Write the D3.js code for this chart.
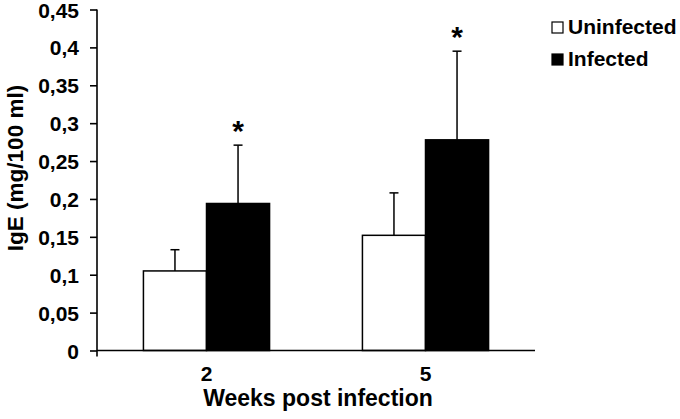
<!DOCTYPE html>
<html>
<head>
<meta charset="utf-8">
<script src="https://cdn.jsdelivr.net/npm/d3@7"></script>
<style>
  body { margin: 0; background: #fff; }
  svg { display: block; }
</style>
</head>
<body>
<div id="chart"></div>
<script>
const weeks = ['2', '5']
const series = ['Uninfected', 'Infected']
const uninfected = [0.105, 0.152]
const uninfectedSd = [0.028, 0.056]
const infected = [0.194, 0.278]
const infectedSd = [0.077, 0.117]
const significant = [true, true]
const yTicks = [0, 0.05, 0.1, 0.15, 0.2, 0.25, 0.3, 0.35, 0.4, 0.45]

const WIDTH = 680
const HEIGHT = 419
const FONT = 'Liberation Sans, Arial, Helvetica, sans-serif'

const rows = weeks.map((w, i) => ({
  week: w,
  bars: [
    { key: 'Uninfected', value: uninfected[i], sd: uninfectedSd[i] },
    { key: 'Infected', value: infected[i], sd: infectedSd[i] },
  ],
  star: significant[i],
}))

const svg = d3.select('#chart').append('svg').attr('width', WIDTH).attr('height', HEIGHT)
svg.append('rect').attr('width', WIDTH).attr('height', HEIGHT).attr('fill', '#ffffff')

const x0 = d3.scaleBand().domain(weeks).range([97, 535])
const bw = x0.bandwidth()
const x1 = d3.scaleBand().domain(series).range([bw * 0.212, bw * 0.788])
const y = d3.scaleLinear().domain([0, 0.45]).range([350.5, 9.5])
const fill = d3.scaleOrdinal().domain(series).range(['#ffffff', '#000000'])

const comma = d3.formatLocale({ decimal: ',', thousands: '.', grouping: [3], currency: ['', ''] })
const fmt = (d) => (d === 0 ? '0' : comma.format('~g')(d))

// y axis
const yAxis = svg
  .append('g')
  .attr('transform', 'translate(97,0)')
  .call(d3.axisLeft(y).tickValues(yTicks).tickFormat(fmt).tickSize(7).tickPadding(11))
yAxis.select('.domain').remove()
yAxis.selectAll('.tick line').attr('stroke', '#000').attr('stroke-width', 1.6)
yAxis
  .selectAll('.tick text')
  .attr('fill', '#000')
  .attr('font-family', FONT)
  .attr('font-size', 21)
  .attr('font-weight', 'bold')
  .attr('dy', '0.36em')

svg
  .append('line')
  .attr('x1', 97)
  .attr('x2', 97)
  .attr('y1', y(0.45))
  .attr('y2', y(0) + 6)
  .attr('stroke', '#000')
  .attr('stroke-width', 1.6)

// bars
const groups = svg
  .selectAll('.group')
  .data(rows)
  .join('g')
  .attr('class', 'group')
  .attr('transform', (d) => `translate(${x0(d.week)},0)`)

groups
  .selectAll('.err')
  .data((d) => d.bars)
  .join('g')
  .attr('class', 'err')
  .each(function (d) {
    const cx = x1(d.key) + x1.bandwidth() / 2
    const g = d3.select(this)
    g.append('line')
      .attr('x1', cx)
      .attr('x2', cx)
      .attr('y1', y(d.value))
      .attr('y2', y(d.value + d.sd))
      .attr('stroke', '#000')
      .attr('stroke-width', 1.5)
    g.append('line')
      .attr('x1', cx - 4.5)
      .attr('x2', cx + 4.5)
      .attr('y1', y(d.value + d.sd))
      .attr('y2', y(d.value + d.sd))
      .attr('stroke', '#000')
      .attr('stroke-width', 1.5)
  })

groups
  .selectAll('.bar')
  .data((d) => d.bars)
  .join('rect')
  .attr('class', 'bar')
  .attr('x', (d) => x1(d.key))
  .attr('y', (d) => y(d.value))
  .attr('width', x1.bandwidth())
  .attr('height', (d) => y(0) - y(d.value))
  .attr('fill', (d) => fill(d.key))
  .attr('stroke', '#000')
  .attr('stroke-width', 1.5)

// significance stars
groups
  .filter((d) => d.star)
  .append('text')
  .attr('x', x1('Infected') + x1.bandwidth() / 2)
  .attr('y', (d) => y(d.bars[1].value + d.bars[1].sd) - 4)
  .attr('text-anchor', 'middle')
  .attr('font-family', FONT)
  .attr('font-size', 30)
  .attr('font-weight', 'bold')
  .attr('fill', '#000')
  .text('*')

// x axis baseline
svg
  .append('line')
  .attr('x1', 97)
  .attr('x2', 535)
  .attr('y1', y(0))
  .attr('y2', y(0))
  .attr('stroke', '#000')
  .attr('stroke-width', 1.6)

svg
  .append('g')
  .selectAll('text')
  .data(weeks)
  .join('text')
  .attr('x', (d) => x0(d) + bw / 2)
  .attr('y', 381)
  .attr('text-anchor', 'middle')
  .attr('font-family', FONT)
  .attr('font-size', 21)
  .attr('font-weight', 'bold')
  .text((d) => d)

// axis titles
svg
  .append('text')
  .attr('x', 318)
  .attr('y', 406)
  .attr('text-anchor', 'middle')
  .attr('font-family', FONT)
  .attr('font-size', 23)
  .attr('font-weight', 'bold')
  .text('Weeks post infection')

svg
  .append('text')
  .attr('transform', 'translate(23,168) rotate(-90)')
  .attr('text-anchor', 'middle')
  .attr('font-family', FONT)
  .attr('font-size', 22.5)
  .attr('font-weight', 'bold')
  .text('IgE (mg/100 ml)')

// legend
const legend = svg
  .append('g')
  .selectAll('g')
  .data(series)
  .join('g')
  .attr('transform', (d, i) => `translate(552,${22 + i * 32})`)

legend
  .append('rect')
  .attr('width', 11)
  .attr('height', 11)
  .attr('fill', (d) => fill(d))
  .attr('stroke', '#000')
  .attr('stroke-width', 1.2)

legend
  .append('text')
  .attr('x', 16)
  .attr('y', 12)
  .attr('font-family', FONT)
  .attr('font-size', 21)
  .attr('font-weight', 'bold')
  .text((d) => d)
</script>
</body>
</html>
